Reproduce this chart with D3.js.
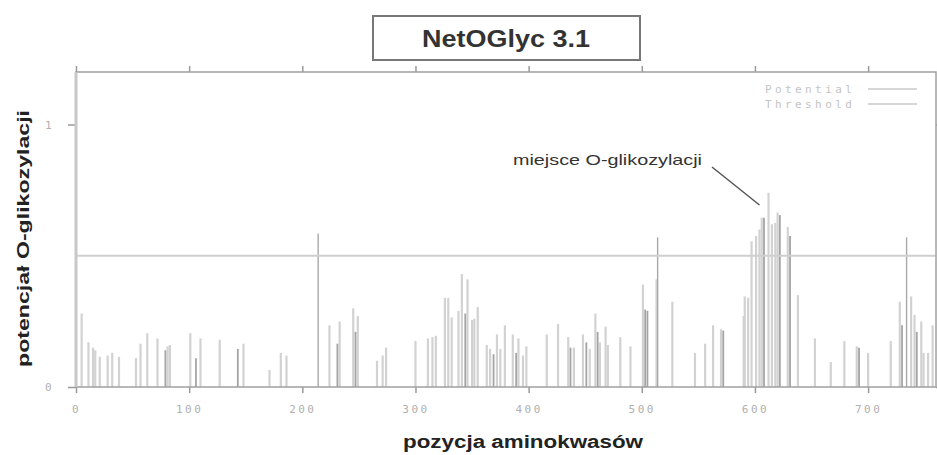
<!DOCTYPE html>
<html>
<head>
<meta charset="utf-8">
<script src="https://cdn.jsdelivr.net/npm/d3@7"></script>
<style>
  html, body { margin: 0; padding: 0; background: #fff; }
</style>
</head>
<body>
<div id="container"></div>
<script>
const width = 937, height = 455;

// --- Data: residue position, O-glycosylation potential, shade ---
const positions = [
  5, 11, 15, 17, 21, 28, 32, 38, 53, 57, 63, 72, 79, 81, 83,
  101, 106, 110, 127, 143, 148, 171, 181, 186,
  214, 224, 231, 233, 245, 247, 249, 266, 271, 274,
  300, 311, 315, 318, 326, 329, 332, 338, 341, 344, 346, 350, 352, 355,
  363, 366, 369, 372, 375, 379, 386, 389, 391, 395, 398,
  416, 426, 435, 437, 440, 448, 451, 454, 459, 461, 463, 468, 470, 481, 490,
  501, 503, 505, 513, 514, 527, 547, 556, 563, 570, 572,
  590, 591, 594, 597, 601, 604, 606, 608, 612, 615, 618, 620, 622, 629, 631, 638,
  653, 667, 679, 690, 692, 700,
  720, 728, 730, 734, 738, 741, 743, 747, 749, 753, 757
];
const potentials = [
  0.28, 0.17, 0.15, 0.14, 0.115, 0.12, 0.13, 0.115, 0.11, 0.165, 0.205, 0.185, 0.14, 0.155, 0.16,
  0.205, 0.11, 0.185, 0.18, 0.145, 0.165, 0.065, 0.13, 0.12,
  0.585, 0.235, 0.165, 0.25, 0.30, 0.21, 0.27, 0.10, 0.12, 0.15,
  0.175, 0.185, 0.19, 0.195, 0.34, 0.34, 0.265, 0.29, 0.43, 0.28, 0.41, 0.255, 0.26, 0.305,
  0.16, 0.145, 0.125, 0.20, 0.145, 0.235, 0.20, 0.13, 0.185, 0.12, 0.155,
  0.20, 0.24, 0.19, 0.15, 0.15, 0.20, 0.17, 0.145, 0.28, 0.21, 0.17, 0.23, 0.16, 0.19, 0.155,
  0.39, 0.295, 0.29, 0.41, 0.57, 0.325, 0.13, 0.165, 0.235, 0.22, 0.215,
  0.27, 0.345, 0.34, 0.555, 0.575, 0.60, 0.645, 0.645, 0.74, 0.62, 0.625, 0.665, 0.655, 0.61, 0.575, 0.35,
  0.185, 0.095, 0.175, 0.155, 0.15, 0.13,
  0.175, 0.325, 0.235, 0.57, 0.345, 0.275, 0.21, 0.25, 0.13, 0.13, 0.235
];
// L = light, D = dark, P = thin dark (above threshold)
const shades = [
  "L","L","L","L","L","L","L","L","L","L","L","L","D","L","L",
  "L","D","L","L","D","L","L","L","L",
  "P","L","D","L","L","D","L","L","L","L",
  "L","L","L","L","L","L","L","L","L","D","L","L","L","L",
  "L","L","D","L","L","L","L","D","L","L","L",
  "L","L","L","D","L","L","D","L","L","D","L","L","L","L","L",
  "L","D","D","L","P","L","L","L","L","L","D",
  "L","L","L","L","L","L","L","D","L","L","L","L","D","L","D","L",
  "L","L","L","L","D","L",
  "L","L","D","P","L","L","D","L","L","L","L"
];
const threshold = 0.5;
const xTicks = [0, 100, 200, 300, 400, 500, 600, 700];
const yTicks = [0, 1];
const legendItems = ["Potential", "Threshold"];

const bars = positions.map((p, i) => ({ pos: p, val: potentials[i], shade: shades[i] }));
const shadeOrder = { L: 0, D: 1, P: 2 };
bars.sort((a, b) => shadeOrder[a.shade] - shadeOrder[b.shade]);

// --- Layout ---
const margin = { top: 72, right: 1, bottom: 68, left: 76 };
const iw = width - margin.left - margin.right;
const ih = height - margin.top - margin.bottom;

const svg = d3.select("#container").append("svg")
  .attr("width", width).attr("height", height);
const g = svg.append("g").attr("transform", `translate(${margin.left},${margin.top})`);

const x = d3.scaleLinear().domain([0, 760]).range([0, iw]);
const y = d3.scaleLinear().domain([0, 1.2]).range([ih, 0]);

const mono = "'DejaVu Sans Mono', 'Liberation Mono', monospace";
const sans = "'Liberation Sans', Arial, sans-serif";

// --- Bars (impulses) ---
const shadeColor = { L: "#d2d2d2", D: "#a4a4a4", P: "#a8a8a8" };
const shadeWidth = { L: 2.2, D: 1.8, P: 1.4 };
g.selectAll("line.bar").data(bars).join("line")
  .attr("class", "bar")
  .attr("x1", d => x(d.pos)).attr("x2", d => x(d.pos))
  .attr("y1", y(0)).attr("y2", d => y(d.val))
  .attr("stroke", d => shadeColor[d.shade])
  .attr("stroke-width", d => shadeWidth[d.shade]);

// --- Threshold ---
g.append("line")
  .attr("x1", 0).attr("x2", iw)
  .attr("y1", y(threshold)).attr("y2", y(threshold))
  .attr("stroke", "#cfcfcf").attr("stroke-width", 2);

// --- Axes ---
const styleAxis = (sel, showText) => {
  sel.select(".domain").remove();
  sel.selectAll("line").attr("stroke", "#9a9a9a").attr("stroke-width", 1.5);
  sel.selectAll("text")
    .attr("fill", "#b0b0b0")
    .style("font-family", mono).style("font-size", "11px")
    .style("letter-spacing", "2.5px")
    .style("display", showText ? null : "none");
};

g.append("g").attr("transform", `translate(0,${ih})`)
  .call(d3.axisBottom(x).tickValues(xTicks).tickSize(6).tickPadding(12).tickFormat(d3.format("d")))
  .call(s => styleAxis(s, true));
g.append("g")
  .call(d3.axisTop(x).tickValues(xTicks).tickSize(6))
  .call(s => styleAxis(s, false));
g.append("g")
  .call(d3.axisLeft(y).tickValues(yTicks).tickSize(8).tickPadding(14).tickFormat(d3.format("d")))
  .call(s => styleAxis(s, true));
g.append("g").attr("transform", `translate(${iw},0)`)
  .call(d3.axisRight(y).tickValues(yTicks).tickSize(8))
  .call(s => styleAxis(s, false));

// --- Frame ---
g.append("rect")
  .attr("x", 0).attr("y", 0).attr("width", iw).attr("height", ih)
  .attr("fill", "none").attr("stroke", "#a0a0a0").attr("stroke-width", 1.5);
g.append("line")
  .attr("x1", 0).attr("x2", 0).attr("y1", 0).attr("y2", ih)
  .attr("stroke", "#c8c8c8").attr("stroke-width", 3);

// --- Legend ---
const lg = g.append("g").attr("transform", `translate(${689},${17})`);
legendItems.forEach((name, i) => {
  lg.append("text")
    .attr("x", 0).attr("y", i * 15).attr("dy", "0.35em")
    .attr("fill", "#c4c4c4")
    .style("font-family", mono).style("font-size", "11px")
    .style("letter-spacing", "3.4px")
    .text(name);
  lg.append("line")
    .attr("x1", 103).attr("x2", 152)
    .attr("y1", i * 15).attr("y2", i * 15)
    .attr("stroke", "#c8c8c8").attr("stroke-width", 1.5);
});

// --- Annotation ---
svg.append("text")
  .attr("x", 513).attr("y", 165)
  .attr("fill", "#333")
  .style("font-family", sans).style("font-size", "15px")
  .attr("textLength", 189).attr("lengthAdjust", "spacingAndGlyphs")
  .text("miejsce O-glikozylacji");
svg.append("line")
  .attr("x1", 712).attr("y1", 167)
  .attr("x2", margin.left + x(604)).attr("y2", 205)
  .attr("stroke", "#555").attr("stroke-width", 1.5);

// --- Title box ---
svg.append("rect")
  .attr("x", 373).attr("y", 16).attr("width", 267).attr("height", 44)
  .attr("fill", "#fff").attr("stroke", "#777").attr("stroke-width", 2);
svg.append("text")
  .attr("x", 422).attr("y", 47)
  .attr("fill", "#333")
  .style("font-family", sans).style("font-size", "23px").style("font-weight", "bold")
  .attr("textLength", 168).attr("lengthAdjust", "spacingAndGlyphs")
  .text("NetOGlyc 3.1");

// --- Axis labels ---
svg.append("text")
  .attr("x", 403).attr("y", 448)
  .attr("fill", "#222")
  .style("font-family", sans).style("font-size", "18px").style("font-weight", "bold")
  .attr("textLength", 240).attr("lengthAdjust", "spacingAndGlyphs")
  .text("pozycja aminokwasów");
svg.append("text")
  .attr("transform", "rotate(-90)")
  .attr("x", -367).attr("y", 29)
  .attr("fill", "#222")
  .style("font-family", sans).style("font-size", "17px").style("font-weight", "bold")
  .attr("textLength", 257).attr("lengthAdjust", "spacingAndGlyphs")
  .text("potencjał O-glikozylacji");
</script>
</body>
</html>
